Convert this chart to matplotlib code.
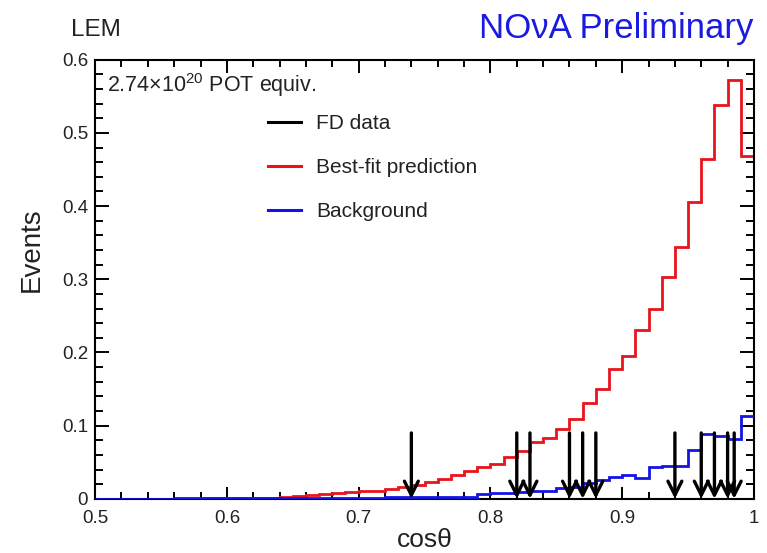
import matplotlib.pyplot as plt
import numpy as np
from matplotlib.lines import Line2D
from matplotlib.ticker import MultipleLocator, FormatStrFormatter

plt.rcParams.update({
    'font.family': 'Liberation Sans',
    'mathtext.fontset': 'custom',
    'mathtext.rm': 'Liberation Sans',
    'mathtext.it': 'Liberation Sans:italic',
})

# =====================
# Data
# =====================
bin_edges = np.round(np.arange(0.50, 1.001, 0.01), 2)

# best-fit prediction, one value per 0.01 bin from 0.50 to 1.00
prediction = [
    0.0000, 0.0000, 0.0001, 0.0001, 0.0002, 0.0002, 0.0003, 0.0004, 0.0005, 0.0006,
    0.0008, 0.0010, 0.0013, 0.0017, 0.0030, 0.0045, 0.0055, 0.0065, 0.0078, 0.0090,
    0.0100, 0.0110, 0.0135, 0.0160, 0.0190, 0.0225, 0.0270, 0.0320, 0.0380, 0.0430,
    0.0480, 0.0570, 0.0650, 0.0775, 0.0830, 0.0960, 0.1090, 0.1305, 0.1500, 0.1770,
    0.1950, 0.2300, 0.2600, 0.3030, 0.3440, 0.4050, 0.4650, 0.5380, 0.5720, 0.4680,
]

# background
background = [
    0.0003, 0.0003, 0.0003, 0.0004, 0.0004, 0.0004, 0.0005, 0.0005, 0.0005, 0.0006,
    0.0006, 0.0007, 0.0007, 0.0008, 0.0008, 0.0009, 0.0009, 0.0010, 0.0010, 0.0011,
    0.0012, 0.0013, 0.0018, 0.0020, 0.0025, 0.0030, 0.0025, 0.0025, 0.0030, 0.0065,
    0.0075, 0.0080, 0.0095, 0.0100, 0.0110, 0.0150, 0.0155, 0.0215, 0.0260, 0.0300,
    0.0320, 0.0290, 0.0440, 0.0455, 0.0450, 0.0670, 0.0890, 0.0860, 0.0820, 0.1130,
]

# FD data events (cos theta of each selected event)
fd_events = [0.74, 0.82, 0.83, 0.86, 0.87, 0.88, 0.94, 0.96, 0.97, 0.98, 0.985]
arrow_top = 0.09

red = "#e8141c"
blue = "#1414e6"

# =====================
# Plot setup
# =====================
fig = plt.figure(figsize=(7.67, 5.53), dpi=100)
ax = fig.add_axes([0.124, 0.098, 0.859, 0.794])

ax.stairs(prediction, bin_edges, color=red, lw=2.0, baseline=None, zorder=2)
ax.stairs(background, bin_edges, color=blue, lw=2.0, baseline=None, zorder=3)

for ev in fd_events:
    ax.annotate("", xy=(ev, 0), xytext=(ev, arrow_top),
                arrowprops=dict(arrowstyle="->,head_length=1.0,head_width=0.5",
                                color="black", lw=2.4, shrinkA=0, shrinkB=0),
                zorder=4)

ax.set_xlim(0.5, 1.0)
ax.set_ylim(0, 0.6)

ax.xaxis.set_major_locator(MultipleLocator(0.1))
ax.xaxis.set_minor_locator(MultipleLocator(0.02))
ax.yaxis.set_major_locator(MultipleLocator(0.1))
ax.yaxis.set_minor_locator(MultipleLocator(0.02))
ax.xaxis.set_major_formatter(FormatStrFormatter('%g'))
ax.yaxis.set_major_formatter(FormatStrFormatter('%g'))

ax.tick_params(which='both', direction='in', top=True, right=True,
               width=1.4, labelsize=13.5, labelcolor="#222222")
ax.tick_params(axis='x', which='major', length=9, pad=8)
ax.tick_params(axis='x', which='minor', length=5)
ax.tick_params(axis='y', which='major', length=10, pad=5)
ax.tick_params(axis='y', which='minor', length=5.5)
for s in ax.spines.values():
    s.set_linewidth(1.5)

ax.set_xlabel("cosθ", fontsize=19, labelpad=1, color="#222222")
ax.set_ylabel("Events", fontsize=20, labelpad=12, y=0.567, color="#222222")

ax.text(0.018, 0.975, "2.74×10$^{20}$ POT equiv.", transform=ax.transAxes,
        fontsize=15.5, ha='left', va='top', color="#222222")

fig.text(0.092, 0.945, "LEM", fontsize=17.5, ha='left', va='center', color="#222222")
fig.text(0.982, 0.948, "NOνA Preliminary", fontsize=25, color="#1a1ae0",
         ha='right', va='center')

legend_elements = [
    Line2D([0], [0], color="black", lw=2.2, label="FD data"),
    Line2D([0], [0], color=red, lw=2.2, label="Best-fit prediction"),
    Line2D([0], [0], color=blue, lw=2.2, label="Background"),
]
leg = ax.legend(handles=legend_elements, loc="upper left", bbox_to_anchor=(0.25, 0.895),
                frameon=False, fontsize=15, handlelength=1.6, handletextpad=0.7,
                labelspacing=1.2, borderaxespad=0)
for t in leg.get_texts():
    t.set_color("#222222")

plt.savefig("out.png", dpi=100)
